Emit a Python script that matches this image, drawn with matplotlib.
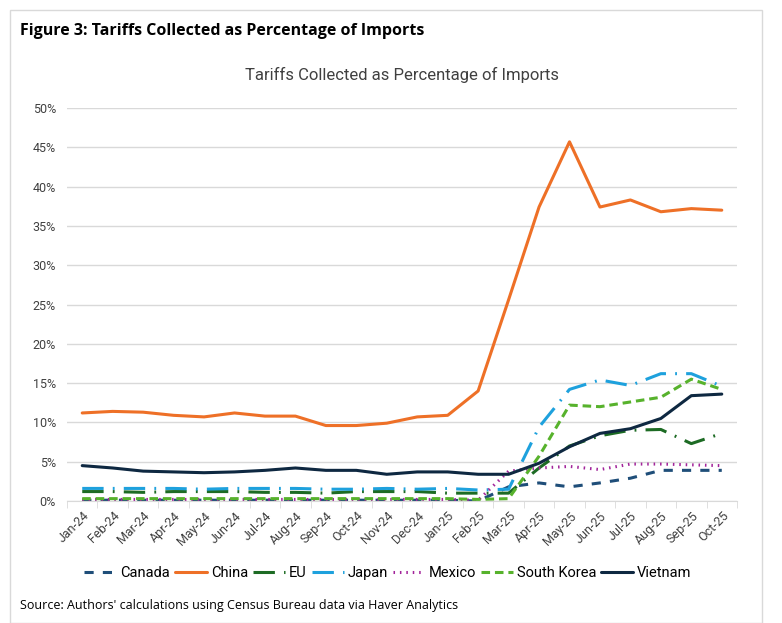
import matplotlib
matplotlib.use("Agg")
import matplotlib.pyplot as plt
from matplotlib.patches import Rectangle
from matplotlib.ticker import FixedLocator, PercentFormatter

months = ['Jan-24', 'Feb-24', 'Mar-24', 'Apr-24', 'May-24', 'Jun-24', 'Jul-24',
          'Aug-24', 'Sep-24', 'Oct-24', 'Nov-24', 'Dec-24', 'Jan-25', 'Feb-25',
          'Mar-25', 'Apr-25', 'May-25', 'Jun-25', 'Jul-25', 'Aug-25', 'Sep-25', 'Oct-25']

canada = [0.1, 0.1, 0.1, 0.1, 0.1, 0.1, 0.1, 0.1, 0.1, 0.1, 0.1, 0.1, 0.1, 0.0,
          1.8, 2.3, 1.8, 2.3, 2.9, 3.9, 3.9, 3.9]
china = [11.2, 11.4, 11.3, 10.9, 10.7, 11.2, 10.8, 10.8, 9.6, 9.6, 9.9, 10.7, 10.9, 14.0,
         25.6, 37.4, 45.7, 37.4, 38.3, 36.8, 37.2, 37.0]
eu = [1.2, 1.2, 1.1, 1.2, 1.2, 1.2, 1.1, 1.1, 1.0, 1.2, 1.2, 1.2, 1.0, 1.0,
      1.0, 4.2, 7.0, 8.3, 9.0, 9.1, 7.3, 8.6]
japan = [1.6, 1.6, 1.6, 1.6, 1.5, 1.6, 1.6, 1.6, 1.5, 1.5, 1.6, 1.5, 1.6, 1.4,
         1.5, 9.4, 14.2, 15.4, 14.7, 16.2, 16.2, 14.6]
mexico = [0.2, 0.2, 0.2, 0.2, 0.2, 0.2, 0.2, 0.2, 0.2, 0.2, 0.2, 0.2, 0.2, 0.1,
          3.8, 4.2, 4.4, 4.0, 4.7, 4.7, 4.6, 4.5]
south_korea = [0.3, 0.3, 0.3, 0.3, 0.3, 0.3, 0.3, 0.3, 0.3, 0.3, 0.3, 0.3, 0.3, 0.2,
               0.3, 5.7, 12.2, 12.0, 12.6, 13.2, 15.5, 14.2]
vietnam = [4.5, 4.2, 3.8, 3.7, 3.6, 3.7, 3.9, 4.2, 3.9, 3.9, 3.4, 3.7, 3.7, 3.4,
           3.4, 4.8, 6.9, 8.6, 9.2, 10.5, 13.4, 13.6]

series = [
    ('Canada', canada, '#1f4e79', (3, 3)),
    ('China', china, '#ee7027', None),
    ('EU', eu, '#1d6b24', (7, 3, 0.6, 3)),
    ('Japan', japan, '#1ea1dd', (7, 3, 0.6, 3)),
    ('Mexico', mexico, '#a2249a', (0.5, 1.6)),
    ('South Korea', south_korea, '#57b22c', (2.8, 1.6)),
    ('Vietnam', vietnam, '#0e2841', None),
]

plt.rcParams['font.family'] = ['Roboto', 'DejaVu Sans']

fig = plt.figure(figsize=(7.82, 6.23), dpi=100)
fig.patches.append(Rectangle((10 / 782, 0.0), 752 / 782, 1 - 10 / 623,
                             transform=fig.transFigure, fill=False,
                             edgecolor='#d9d9d9', linewidth=1.0))

fig.text(20 / 782, 1 - 31 / 623, 'Figure 3: Tariffs Collected as Percentage of Imports',
         fontsize=11.5, fontweight='bold', family=['Open Sans', 'DejaVu Sans'],
         va='center', ha='left')

ax = fig.add_axes([67 / 782, 1 - 501 / 623, 670 / 782, 393 / 623])
ax.set_title('Tariffs Collected as Percentage of Imports', fontsize=12,
             color='#404040', pad=20)

x = list(range(len(months)))
for name, vals, color, dash in series:
    if dash is None:
        ax.plot(x, vals, color=color, lw=2.2, label=name, solid_capstyle='round')
    else:
        ax.plot(x, vals, color=color, lw=2.2, label=name, dashes=dash)

ax.set_xlim(-0.5, len(months) - 0.5)
ax.set_ylim(0, 50)
ax.set_yticks(range(0, 51, 5))
ax.yaxis.set_major_formatter(PercentFormatter(decimals=0))
ax.set_xticks(x)
ax.set_xticklabels(months, rotation=45, ha='right', rotation_mode='anchor', fontsize=9,
                   color='#404040')
ax.xaxis.set_minor_locator(FixedLocator([i - 0.5 for i in range(len(months) + 1)]))
ax.tick_params(axis='x', which='major', length=0, pad=6)
ax.tick_params(axis='x', which='minor', length=5, color='#d9d9d9')
ax.tick_params(axis='y', length=0, labelsize=9, colors='#404040', pad=8)

ax.grid(axis='y', color='#d9d9d9', lw=1.0)
ax.set_axisbelow(True)
for side in ['top', 'right', 'left']:
    ax.spines[side].set_visible(False)
ax.spines['bottom'].set_color('#d9d9d9')

fig.legend(loc='center', bbox_to_anchor=(388 / 782, 1 - 573 / 623), ncol=7,
           frameon=False, fontsize=10.5, handlelength=2.2, handletextpad=0.25,
           columnspacing=0.35)

fig.text(20 / 782, 1 - 606 / 623,
         "Source: Authors' calculations using Census Bureau data via Haver Analytics",
         fontsize=9, family=['Open Sans', 'DejaVu Sans'], va='center', ha='left')

fig.savefig('out.png', dpi=100)
